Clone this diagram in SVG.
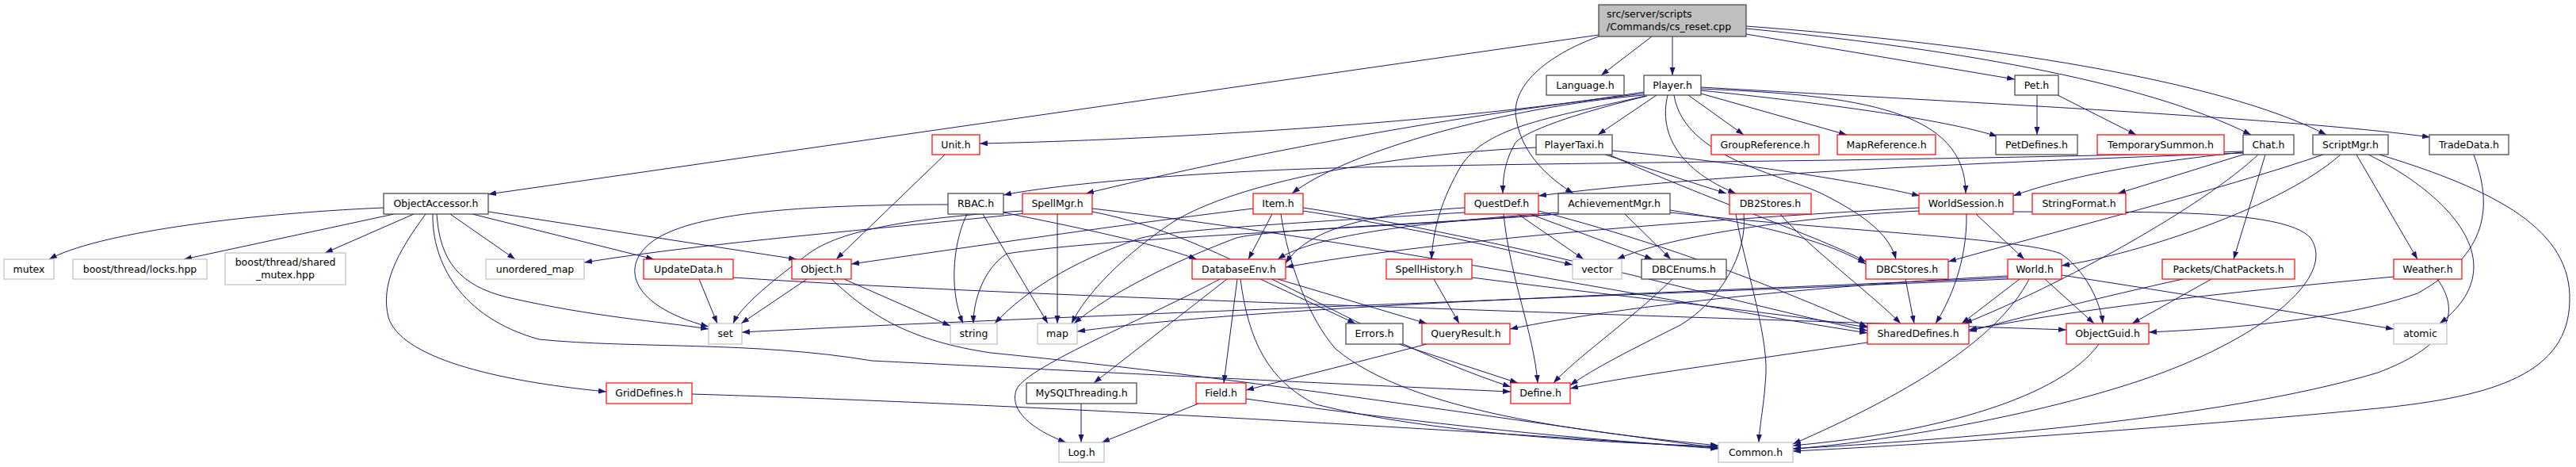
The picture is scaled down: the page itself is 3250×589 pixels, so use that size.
<svg xmlns="http://www.w3.org/2000/svg" width="3250" height="589" viewBox="0 0 3250 589">
<style>
text{font-family:"DejaVu Sans","Liberation Sans",sans-serif;font-size:12.5px;fill:#000;text-anchor:middle}
.nd rect{fill:#fff;stroke-width:1.2}
.k rect{stroke:#404040}
.r rect{stroke:#ff0000}
.g rect{stroke:#bfbfbf}
.rt rect{fill:#bfbfbf;stroke:#404040}
.rt text{text-anchor:start}
#edges path{fill:none;stroke:#191970;stroke-width:1;marker-end:url(#a)}
</style>
<defs>
<marker id="a" markerWidth="10" markerHeight="8" refX="10" refY="3.5" orient="auto" markerUnits="userSpaceOnUse"><path d="M0,0 L10,3.5 L0,7 z" fill="#191970" stroke="none"/></marker>
</defs>
<rect width="3250" height="589" fill="#fff"/>
<g id="edges">
<path d="M2017,44 L616,245"/>
<path d="M2084,46 L2020,95"/>
<path d="M2110,46 L2110,95"/>
<path d="M2017,46 C1950,70 1905,110 1913,150 C1920,195 1955,225 1985,244"/>
<path d="M2203,43 L2542,100"/>
<path d="M2203,36 C2450,60 2700,100 2840,170"/>
<path d="M2203,33 C2500,55 2800,100 2935,170"/>
<path d="M2570,120 L2570,170"/>
<path d="M2596,120 L2695,170"/>
<path d="M2074,116 C1800,160 1400,178 1236,181"/>
<path d="M2090,120 L2016,170"/>
<path d="M2130,120 L2200,170"/>
<path d="M2146,118 L2330,170"/>
<path d="M2146,114 C2300,130 2450,150 2520,172"/>
<path d="M2146,110 C2500,130 2900,150 3066,173"/>
<path d="M2074,118 C1800,150 1550,200 1370,244"/>
<path d="M2074,120 C1900,135 1700,190 1630,244"/>
<path d="M2078,121 C1960,150 1920,170 1912,180 C1900,200 1896,220 1896,244"/>
<path d="M2076,121 C1950,150 1870,160 1840,215 C1815,260 1808,295 1806,327"/>
<path d="M2104,120 C2092,170 2120,215 2190,244"/>
<path d="M2112,120 C2125,200 2250,220 2300,245 C2360,275 2385,300 2392,327"/>
<path d="M2146,112 C2350,120 2480,140 2480,244"/>
<path d="M1938,186 C1750,195 1560,230 1480,280 C1420,320 1370,370 1352,408"/>
<path d="M2025,195 L2178,244"/>
<path d="M2034,190 C2200,205 2350,230 2422,247"/>
<path d="M2030,195 C2150,250 2300,300 2354,330"/>
<path d="M484,262 C300,270 120,295 62,327"/>
<path d="M497,270 L232,327"/>
<path d="M522,270 L410,319"/>
<path d="M537,270 C500,320 480,360 490,400 C505,450 620,480 765,494"/>
<path d="M546,270 C545,330 580,400 680,428 C800,440 950,430 1100,455 C1400,470 1700,485 1906,494"/>
<path d="M551,270 C555,330 580,360 640,375 C750,400 830,405 894,415"/>
<path d="M568,270 L650,327"/>
<path d="M596,270 L825,327"/>
<path d="M616,267 L1005,327"/>
<path d="M1196,258 C1000,258 880,270 830,300 C780,330 790,385 894,412"/>
<path d="M1220,270 C1205,300 1195,360 1215,408"/>
<path d="M1240,270 L1322,408"/>
<path d="M1266,268 C1350,285 1450,305 1510,327"/>
<path d="M1294,269 C1100,290 900,305 737,331"/>
<path d="M1334,270 L1334,408"/>
<path d="M1290,266 C1150,275 1060,290 1020,320 C980,350 935,385 925,408"/>
<path d="M1378,263 C1700,300 2100,380 2356,420"/>
<path d="M1378,267 C1550,300 1700,420 1906,488"/>
<path d="M1581,263 C1400,285 1200,315 1074,333"/>
<path d="M1605,270 L1575,327"/>
<path d="M1616,270 C1625,330 1650,400 1685,440 C1780,520 2000,545 2168,562"/>
<path d="M1644,262 C1900,300 2200,385 2356,417"/>
<path d="M1644,266 C1800,290 1900,315 1984,334"/>
<path d="M1848,262 C1720,270 1650,290 1622,332"/>
<path d="M1848,268 C1650,280 1480,290 1440,300 C1350,330 1290,370 1255,408"/>
<path d="M1897,270 C1905,350 1935,420 1940,483"/>
<path d="M1915,270 L1998,327"/>
<path d="M1930,270 L2085,327"/>
<path d="M1941,266 C2150,320 2300,390 2356,412"/>
<path d="M1966,268 C1800,280 1660,295 1612,327"/>
<path d="M1966,270 C1700,290 1400,300 1270,320 C1240,340 1228,380 1228,408"/>
<path d="M1966,270 C1750,285 1600,290 1560,300 C1480,330 1400,370 1355,408"/>
<path d="M2050,270 L2108,327"/>
<path d="M2107,265 C2200,280 2300,300 2354,333"/>
<path d="M2107,268 C2300,290 2550,300 2600,320 C2630,340 2650,380 2653,408"/>
<path d="M2246,270 C2280,310 2360,370 2398,408"/>
<path d="M2200,270 C2205,320 2170,380 2120,410 C2060,440 2010,465 1981,486"/>
<path d="M2190,270 C2200,330 2230,420 2228,470 C2226,510 2220,535 2219,558"/>
<path d="M2481,270 C2482,330 2460,380 2442,408"/>
<path d="M2493,270 L2554,327"/>
<path d="M2421,262 C2100,280 1800,305 1622,337"/>
<path d="M2421,266 C2250,275 2100,300 2040,327"/>
<path d="M2540,267 C2700,268 2880,262 2915,300 C2950,350 2850,430 2700,480 C2550,530 2350,560 2262,566"/>
<path d="M2548,352 L2475,408"/>
<path d="M2580,352 L2642,408"/>
<path d="M2560,352 C2520,430 2400,500 2262,560"/>
<path d="M2601,347 C2750,370 2900,395 3020,415"/>
<path d="M2533,348 C2300,360 2050,385 1905,415"/>
<path d="M2533,350 C2100,370 1600,385 1359,418"/>
<path d="M2533,352 C2000,375 1300,400 936,419"/>
<path d="M2754,352 C2650,375 2550,400 2484,418"/>
<path d="M2790,352 L2690,408"/>
<path d="M2858,195 L2818,327"/>
<path d="M2849,195 C2780,260 2600,360 2478,408"/>
<path d="M2830,192 C2700,205 2600,225 2540,247"/>
<path d="M2830,195 L2672,244"/>
<path d="M2830,191 C2400,205 1800,205 1600,215 C1450,222 1320,235 1266,246"/>
<path d="M2830,193 C2500,205 2150,220 1941,247"/>
<path d="M2931,195 C2800,240 2600,290 2458,330"/>
<path d="M2953,195 C2880,260 2700,320 2601,335"/>
<path d="M2973,195 L3050,327"/>
<path d="M2988,195 C3080,240 3180,330 3078,408"/>
<path d="M3002,195 C3150,240 3245,290 3242,380 C3240,470 3150,500 3000,515 C2800,535 2450,560 2262,569"/>
<path d="M3075,352 C3110,400 3080,440 3000,470 C2800,530 2450,555 2262,566"/>
<path d="M3020,349 C2850,365 2650,385 2484,416"/>
<path d="M3121,195 C3145,260 3140,320 3050,370 C2950,405 2800,415 2711,419"/>
<path d="M1018,352 L935,408"/>
<path d="M1065,352 L1199,411"/>
<path d="M1049,352 C1100,400 1150,430 1250,445 C1600,480 1900,530 2168,565"/>
<path d="M882,352 L905,408"/>
<path d="M925,350 C1300,375 2000,395 2607,416"/>
<path d="M873,497 C1300,510 1900,545 2168,566"/>
<path d="M1539,352 C1450,400 1300,460 1283,490 C1270,520 1310,545 1345,558"/>
<path d="M1548,352 L1380,483"/>
<path d="M1561,352 L1544,483"/>
<path d="M1565,352 C1575,430 1600,480 1660,510 C1800,545 2000,558 2168,563"/>
<path d="M1590,352 L1710,408"/>
<path d="M1612,352 L1800,408"/>
<path d="M1512,509 L1390,558"/>
<path d="M1572,503 C1800,535 2000,555 2168,565"/>
<path d="M1364,509 L1364,558"/>
<path d="M1765,434 L1915,483"/>
<path d="M1800,434 C1700,460 1620,480 1572,492"/>
<path d="M1809,352 L1841,408"/>
<path d="M1857,350 C2050,375 2250,395 2356,413"/>
<path d="M2110,352 C2050,410 1990,450 1960,483"/>
<path d="M2404,352 L2415,408"/>
<path d="M2356,432 C2200,455 2050,475 1981,490"/>
<path d="M2648,434 C2600,500 2450,545 2262,562"/>
<path d="M1192,195 L1055,327"/>
</g>
<g id="n-root" class="nd rt"><rect x="2017" y="6" width="186" height="40"/><text x="2027" y="22">src/server/scripts</text><text x="2027" y="38">/Commands/cs_reset.cpp</text></g>
<g id="n-language" class="nd k"><rect x="1951" y="95" width="98" height="25"/><text x="2000" y="112">Language.h</text></g>
<g id="n-player" class="nd k"><rect x="2074" y="95" width="72" height="25"/><text x="2110" y="112">Player.h</text></g>
<g id="n-pet" class="nd k"><rect x="2542" y="95" width="55" height="25"/><text x="2569.5" y="112">Pet.h</text></g>
<g id="n-unit" class="nd r"><rect x="1176" y="170" width="60" height="25"/><text x="1206" y="187">Unit.h</text></g>
<g id="n-playertaxi" class="nd k"><rect x="1938" y="170" width="96" height="25"/><text x="1986" y="187">PlayerTaxi.h</text></g>
<g id="n-groupref" class="nd r"><rect x="2159" y="170" width="136" height="25"/><text x="2227" y="187">GroupReference.h</text></g>
<g id="n-mapref" class="nd r"><rect x="2318" y="170" width="124" height="25"/><text x="2380" y="187">MapReference.h</text></g>
<g id="n-petdefines" class="nd k"><rect x="2518" y="170" width="103" height="25"/><text x="2569.5" y="187">PetDefines.h</text></g>
<g id="n-tempsummon" class="nd r"><rect x="2646" y="170" width="160" height="25"/><text x="2726" y="187">TemporarySummon.h</text></g>
<g id="n-chat" class="nd k"><rect x="2830" y="170" width="64" height="25"/><text x="2862" y="187">Chat.h</text></g>
<g id="n-scriptmgr" class="nd k"><rect x="2918" y="170" width="95" height="25"/><text x="2965.5" y="187">ScriptMgr.h</text></g>
<g id="n-tradedata" class="nd k"><rect x="3065" y="170" width="100" height="25"/><text x="3115" y="187">TradeData.h</text></g>
<g id="n-objectaccessor" class="nd k"><rect x="484" y="244" width="132" height="26"/><text x="550" y="261">ObjectAccessor.h</text></g>
<g id="n-rbac" class="nd k"><rect x="1196" y="244" width="70" height="26"/><text x="1231" y="261">RBAC.h</text></g>
<g id="n-spellmgr" class="nd r"><rect x="1290" y="244" width="88" height="26"/><text x="1334" y="261">SpellMgr.h</text></g>
<g id="n-item" class="nd r"><rect x="1581" y="244" width="63" height="26"/><text x="1612.5" y="261">Item.h</text></g>
<g id="n-questdef" class="nd r"><rect x="1848" y="244" width="93" height="26"/><text x="1894.5" y="261">QuestDef.h</text></g>
<g id="n-achievementmgr" class="nd k"><rect x="1966" y="244" width="141" height="26"/><text x="2036.5" y="261">AchievementMgr.h</text></g>
<g id="n-db2stores" class="nd r"><rect x="2182" y="244" width="103" height="26"/><text x="2233.5" y="261">DB2Stores.h</text></g>
<g id="n-worldsession" class="nd r"><rect x="2421" y="244" width="119" height="26"/><text x="2480.5" y="261">WorldSession.h</text></g>
<g id="n-stringformat" class="nd r"><rect x="2564" y="244" width="118" height="26"/><text x="2623" y="261">StringFormat.h</text></g>
<g id="n-mutex" class="nd g"><rect x="5" y="327" width="63" height="25"/><text x="36.5" y="344">mutex</text></g>
<g id="n-locks" class="nd g"><rect x="92" y="327" width="169" height="25"/><text x="176.5" y="344">boost/thread/locks.hpp</text></g>
<g id="n-sharedmutex" class="nd g"><rect x="284" y="319" width="152" height="40"/><text x="360" y="335">boost/thread/shared</text><text x="360" y="351">_mutex.hpp</text></g>
<g id="n-unorderedmap" class="nd g"><rect x="613" y="327" width="124" height="25"/><text x="675" y="344">unordered_map</text></g>
<g id="n-updatedata" class="nd r"><rect x="812" y="327" width="113" height="25"/><text x="868.5" y="344">UpdateData.h</text></g>
<g id="n-object" class="nd r"><rect x="999" y="327" width="75" height="25"/><text x="1036.5" y="344">Object.h</text></g>
<g id="n-databaseenv" class="nd r"><rect x="1504" y="327" width="118" height="25"/><text x="1563" y="344">DatabaseEnv.h</text></g>
<g id="n-spellhistory" class="nd r"><rect x="1749" y="327" width="108" height="25"/><text x="1803" y="344">SpellHistory.h</text></g>
<g id="n-vector" class="nd g"><rect x="1984" y="327" width="62" height="25"/><text x="2015" y="344">vector</text></g>
<g id="n-dbcenums" class="nd k"><rect x="2071" y="327" width="107" height="25"/><text x="2124.5" y="344">DBCEnums.h</text></g>
<g id="n-dbcstores" class="nd r"><rect x="2354" y="327" width="104" height="25"/><text x="2406" y="344">DBCStores.h</text></g>
<g id="n-world" class="nd r"><rect x="2533" y="327" width="68" height="25"/><text x="2567" y="344">World.h</text></g>
<g id="n-chatpackets" class="nd r"><rect x="2728" y="327" width="167" height="25"/><text x="2811.5" y="344">Packets/ChatPackets.h</text></g>
<g id="n-weather" class="nd r"><rect x="3020" y="327" width="86" height="25"/><text x="3063" y="344">Weather.h</text></g>
<g id="n-set" class="nd g"><rect x="894" y="408" width="42" height="26"/><text x="915" y="425">set</text></g>
<g id="n-string" class="nd g"><rect x="1199" y="408" width="59" height="26"/><text x="1228.5" y="425">string</text></g>
<g id="n-map" class="nd g"><rect x="1309" y="408" width="50" height="26"/><text x="1334" y="425">map</text></g>
<g id="n-errors" class="nd k"><rect x="1698" y="408" width="72" height="26"/><text x="1734" y="425">Errors.h</text></g>
<g id="n-queryresult" class="nd r"><rect x="1794" y="408" width="111" height="26"/><text x="1849.5" y="425">QueryResult.h</text></g>
<g id="n-shareddefines" class="nd r"><rect x="2356" y="408" width="128" height="26"/><text x="2420" y="425">SharedDefines.h</text></g>
<g id="n-objectguid" class="nd r"><rect x="2607" y="408" width="104" height="26"/><text x="2659" y="425">ObjectGuid.h</text></g>
<g id="n-atomic" class="nd g"><rect x="3020" y="408" width="67" height="26"/><text x="3053.5" y="425">atomic</text></g>
<g id="n-griddefines" class="nd r"><rect x="765" y="483" width="108" height="26"/><text x="819" y="500">GridDefines.h</text></g>
<g id="n-mysqlthreading" class="nd k"><rect x="1295" y="483" width="139" height="26"/><text x="1364.5" y="500">MySQLThreading.h</text></g>
<g id="n-field" class="nd r"><rect x="1509" y="483" width="63" height="26"/><text x="1540.5" y="500">Field.h</text></g>
<g id="n-define" class="nd r"><rect x="1906" y="483" width="75" height="26"/><text x="1943.5" y="500">Define.h</text></g>
<g id="n-log" class="nd g"><rect x="1336" y="558" width="57" height="25"/><text x="1364.5" y="575">Log.h</text></g>
<g id="n-common" class="nd g"><rect x="2168" y="558" width="94" height="25"/><text x="2215" y="575">Common.h</text></g>
</svg>
